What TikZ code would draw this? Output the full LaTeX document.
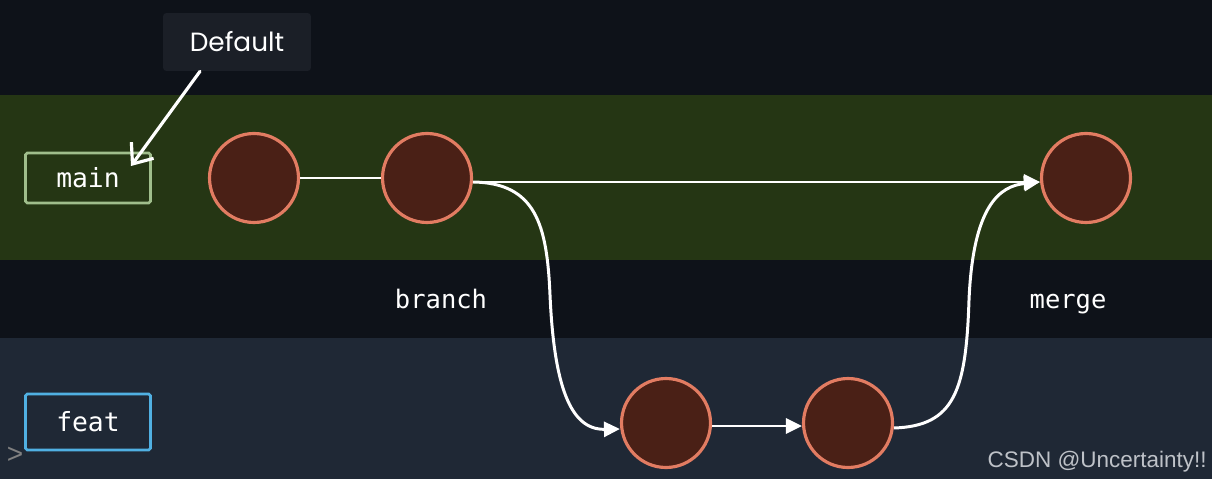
\documentclass[tikz,border=0pt]{standalone}
\usepackage{fontspec}
\setmainfont{Poppins}
\newfontfamily\codefont{DejaVu Sans Mono}
\newfontfamily\markfont{Liberation Sans}
\usetikzlibrary{arrows.meta}

\definecolor{bgdark}{RGB}{14,18,25}
\definecolor{bandmain}{RGB}{37,54,20}
\definecolor{bandfeat}{RGB}{31,40,53}
\definecolor{tipbox}{RGB}{27,31,39}
\definecolor{commitfill}{RGB}{74,32,22}
\definecolor{commitline}{RGB}{226,124,98}
\definecolor{mainline}{RGB}{160,190,140}
\definecolor{featline}{RGB}{80,176,226}
\definecolor{marktext}{RGB}{190,194,200}

\tikzset{
  commit/.style={circle, draw=commitline, fill=commitfill, line width=1.8pt,
    minimum size=1.78cm, inner sep=0pt},
  branchbox/.style={draw, line width=1.5pt, rounded corners=1pt,
    minimum width=2.5cm, minimum height=1.0cm, text=white,
    font=\codefont\fontsize{15}{16}\selectfont},
  steplabel/.style={text=white, anchor=base, font=\codefont\fontsize{14.5}{16}\selectfont},
  link/.style={white, line width=1.7pt},
  linkarrow/.style={link, -{Triangle[length=0.32cm,width=0.3cm]}}
}

\begin{document}
\begin{tikzpicture}[x=0.02cm, y=-0.02cm]

% Bande di sfondo
\fill[bgdark] (0,0) rectangle (1212,479);
\useasboundingbox (0,0) rectangle (1212,479);
\fill[bandmain] (0,95) rectangle (1212,260);
\fill[bandfeat] (0,338) rectangle (1212,479);

% Rami
\node[branchbox, draw=mainline] (main) at (88,178) {main};
\node[branchbox, draw=featline, minimum height=1.12cm] (feat) at (88,422) {feat};

% Etichetta Default
\node[fill=tipbox, rounded corners=2pt, minimum width=2.96cm, minimum height=1.16cm,
  text=white, font=\fontsize{15}{16}\selectfont] (default) at (237,42) {Default};
\coordinate (defaulttip) at (131,166);
\draw[white, line width=1.8pt, line cap=round, -{Straight Barb[length=0.34cm,width=0.55cm,line width=1.8pt]}]
  ([xshift=-0.74cm]default.south) -- (defaulttip);

% Commit
\node[commit] (m1) at (254,178) {};
\node[commit] (m2) at (427,178) {};
\node[commit] (m3) at (1086,178) {};
\node[commit] (f1) at (666,423) {};
\node[commit] (f2) at (848,423) {};

% Collegamenti
\draw[link] (m1.east) -- (m2.west);
\draw[linkarrow] ([yshift=-0.08cm]m2.east) -- ([yshift=-0.08cm]m3.west);
\draw[linkarrow] ([yshift=-0.08cm]m2.east)
  .. controls (536,183) and (547,225) .. (550,295)
  .. controls (554,385) and (570,430) .. ([yshift=-0.12cm]f1.west);
\draw[linkarrow] ([yshift=-0.06cm]f1.east) -- ([yshift=-0.06cm]f2.west);
\draw[linkarrow] ([yshift=-0.1cm]f2.east)
  .. controls (955,426) and (966,390) .. (969,300)
  .. controls (973,205) and (1000,186) .. ([yshift=-0.08cm]m3.west);

% Etichette
\node[steplabel] (branchlbl) at (441,308) {branch};
\node[steplabel] (mergelbl) at (1068,308) {merge};

% Filigrana
\node[text=marktext, anchor=base east, inner sep=0pt, font=\markfont\fontsize{12.8}{14}\selectfont] (watermark) at (1207,467) {CSDN @Uncertainty!!};
\node[text=gray, font=\markfont\fontsize{16}{16}\selectfont] (prompt) at (15,455) {>};

\end{tikzpicture}
\end{document}
